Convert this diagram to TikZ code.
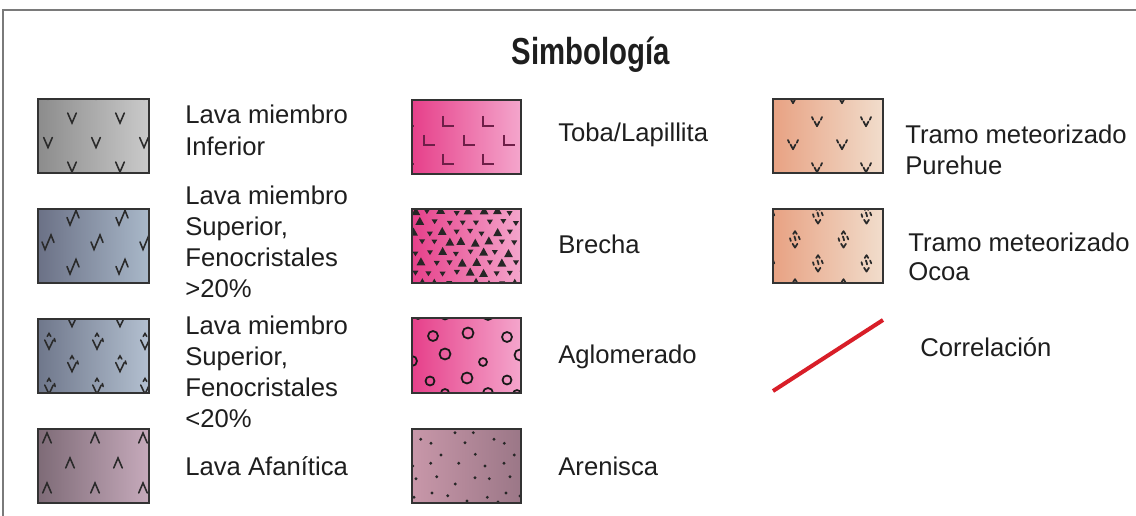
\documentclass[tikz,border=0pt]{standalone}
\usepackage{fontspec}
\setmainfont{Liberation Sans}
\usetikzlibrary{calc}
\definecolor{txt}{HTML}{1E1E1E}
\definecolor{framec}{HTML}{7A7A7A}
\definecolor{boxc}{HTML}{333333}
\definecolor{glc}{HTML}{2A2A2A}
\definecolor{tobac}{HTML}{6E1F48}
\definecolor{redc}{HTML}{D81E28}
\definecolor{sAl}{HTML}{8C8C8C}\definecolor{sAr}{HTML}{CACACA}
\definecolor{sBl}{HTML}{6B7186}\definecolor{sBr}{HTML}{A9B8C9}
\definecolor{sCl}{HTML}{6F778B}\definecolor{sCr}{HTML}{B3C0D0}
\definecolor{sDl}{HTML}{7E6B77}\definecolor{sDr}{HTML}{C6AABB}
\definecolor{pkl}{HTML}{E6408A}\definecolor{pkr}{HTML}{F4A6CC}
\definecolor{arl}{HTML}{C897A9}\definecolor{arr}{HTML}{9B7787}
\definecolor{trl}{HTML}{E8A283}\definecolor{trr}{HTML}{F1DDCC}
\tikzset{
  lbl/.style={anchor=base west, inner sep=0pt, text=txt, font=\fontsize{14.6}{17.5}\selectfont},
  gl/.style={draw=glc, line width=0.9pt, line cap=round, line join=miter},
  glb/.style={draw=glc, line width=1.0pt, line cap=round, line join=round},
  tl/.style={draw=tobac, line width=0.7pt},
  swborder/.style={draw=boxc, line width=0.85pt},
}
% #1 box x, #2 box y, #3 x offset, #4 y offset, #5 dx, #6 dy, #7 row shift, #8 glyph, #9 first row
\newcommand{\lattice}[9]{%
  \foreach \i in {#9,...,5}{%
    \foreach \j in {-1,...,3}{%
      \pgfmathsetmacro\gx{#1+#3+#5*\j-#7*mod(\i+2,2)}%
      \pgfmathsetmacro\gy{#2+#4+#6*\i}%
      \begin{scope}[shift={(\gx,\gy)}]#8\end{scope}%
    }%
  }%
}
\newcommand{\gVee}{\draw[gl] (-4.3,-5) -- (0,5) -- (4.3,-5);}
\newcommand{\gZig}{\draw[gl] (-6,-0.5) -- (-3,7) -- (3,-7.5) -- (6,0);}
\newcommand{\gVcar}{\draw[gl] (-4.3,-3.5) -- (0,5.5) -- (4.3,-3.5); \draw[gl] (-1.8,-7) -- (0,-10) -- (1.8,-7); \draw[gl] (5.3,-5) -- (6.2,-2);}
\newcommand{\gLam}{\draw[gl] (-4.3,5) -- (0,-5) -- (4.3,5);}
\newcommand{\gL}{\draw[tl] (-5,-6) -- (-5,4) -- (6,4);}
\newcommand{\gPur}{\draw[glb] (-2.5,-0.5) -- (0,4.2) -- (2.5,-0.5); \draw[glb] (-5,-5) -- (-3.8,-2.2); \draw[glb] (5,-5) -- (3.8,-2.2);}
\newcommand{\gOco}{\draw[glb] (-1.8,-8) -- (0,-10.8) -- (1.8,-8); \draw[glb] (-5,-3.8) -- (-4.2,-1); \draw[glb] (-0.6,-5.5) .. controls (1.2,-5) and (-1.2,-2.8) .. (0.6,-1.6); \draw[glb] (3.6,-5.5) -- (4.8,-2.6); \draw[glb] (-2.4,1.8) -- (0,5.6) -- (2.4,1.8);}
\begin{document}
\begin{tikzpicture}[x=0.02cm,y=-0.02cm]
\useasboundingbox (0,0) rectangle (1136,516);
\fill[white] (0,0) rectangle (1136,516);
% frame
\draw[framec, line width=1.1pt] (3,516) -- (3,10) -- (1136,10);
\node (title) at (591,65) [anchor=base, inner sep=0pt, text=txt, font=\bfseries\fontsize{21.4}{24}\selectfont] {\scalebox{0.78}[1]{Simbología}};

% ---- column 1 ----
\shade[left color=sAl, right color=sAr] (38,99) rectangle ++(111,74);
\begin{scope}\clip (38,99) rectangle ++(111,74); \lattice{38}{99}{34}{19}{48}{24.5}{24}{\gVee}{-1} \end{scope}
\draw[swborder] (38,99) rectangle ++(111,74);
\shade[left color=sBl, right color=sBr] (38,209) rectangle ++(111,74);
\begin{scope}\clip (38,209) rectangle ++(111,74); \lattice{38}{209}{35}{9}{49}{24.5}{25}{\gZig}{-1} \end{scope}
\draw[swborder] (38,209) rectangle ++(111,74);
\shade[left color=sCl, right color=sCr] (38,319) rectangle ++(111,74);
\begin{scope}\clip (38,319) rectangle ++(111,74); \lattice{38}{319}{34}{2}{48}{22.5}{23}{\gVcar}{-1} \end{scope}
\draw[swborder] (38,319) rectangle ++(111,74);
\shade[left color=sDl, right color=sDr] (38,429) rectangle ++(111,74);
\begin{scope}\clip (38,429) rectangle ++(111,74); \lattice{38}{429}{9}{9}{48}{25}{-23}{\gLam}{-1} \end{scope}
\draw[swborder] (38,429) rectangle ++(111,74);

\node[lbl] (t1a) at (185,124) {Lava miembro};
\node[lbl] (t1b) at (185,156) {Inferior};
\node[lbl] (t2a) at (185,205) {Lava miembro};
\node[lbl] (t2b) at (185,236) {Superior,};
\node[lbl] (t2c) at (185,267) {Fenocristales};
\node[lbl] (t2d) at (185,298) {>20\%};
\node[lbl] (t3a) at (185,335) {Lava miembro};
\node[lbl] (t3b) at (185,366) {Superior,};
\node[lbl] (t3c) at (185,397) {Fenocristales};
\node[lbl] (t3d) at (185,428) {<20\%};
\node[lbl] (t4a) at (185,476) {Lava Afanítica};

% ---- column 2 ----
\shade[left color=pkl, right color=pkr] (412,100) rectangle ++(109,74);
\begin{scope}\clip (412,100) rectangle ++(109,74); \lattice{412}{100}{36}{22}{40}{19}{19}{\gL}{0} \end{scope}
\draw[swborder] (412,100) rectangle ++(109,74);
\shade[left color=pkl, right color=pkr] (412,209) rectangle ++(109,74);
\begin{scope}\clip (412,209) rectangle ++(109,74);
\pgfmathsetseed{5}
\foreach \i in {0,...,7}{\foreach \j in {0,...,8}{%
  \pgfmathsetmacro\tx{412+3+13.5*\j+6.5*mod(\i,2)+rand*1.8}%
  \pgfmathsetmacro\ty{209+3+10.2*\i+rand*1.5}%
  \pgfmathsetmacro\tr{rnd}%
  \ifdim\tr pt<0.42pt
    \fill[black!85] (\tx,\ty) +(0,-4.8) -- +(4.4,3.2) -- +(-4.4,3.2) -- cycle;
  \else
    \fill[black!85] (\tx,\ty) +(-3,-2) -- +(3,-2) -- +(0,2.8) -- cycle;
  \fi
}}
\end{scope}
\draw[swborder] (412,209) rectangle ++(109,74);
\shade[left color=pkl, right color=pkr] (412,318) rectangle ++(109,75);
\begin{scope}\clip (412,318) rectangle ++(109,75);
\foreach \cx/\cy/\cr in {21/18/5,56/15/5.5,95/19/5,33/36/5.5,71/44/4,108/37/5.5,0/43/5,18/63/4.5,55/60/5.5,95/62/4.5,6/-3/4,33/-3/4.5,76/-3/5,33/75/4,76/75/5,105/76/4}{
  \draw[black!90, line width=1pt] (412+\cx,318+\cy) circle[radius=\cr];
}
\end{scope}
\draw[swborder] (412,318) rectangle ++(109,75);
\shade[left color=arl, right color=arr] (412,429) rectangle ++(109,74);
\begin{scope}\clip (412,429) rectangle ++(109,74);
\foreach \dx/\dy in {8.7/10.3,19/14.3,43/3.7,61.3/3.7,53/13.7,82/10.3,92.3/14.3,29/26,63.3/25.3,102.3/26,0.7/37,18.7/34.3,46.7/34.3,73/37,92/34.3,4/49.7,24.7/47.7,43.3/55,63/48.7,77.3/49.7,98/47.7,2/68.3,20/64,35.7/66.7,75.3/68.3,94/64,108/67,55/72,86/73}{
  \fill[black!85] (412+\dx,429+\dy) circle[radius=1.6];
}
\end{scope}
\draw[swborder] (412,429) rectangle ++(109,74);

\node[lbl] (u1) at (558,142) {Toba/Lapillita};
\node[lbl] (u2) at (558,254) {Brecha};
\node[lbl] (u3) at (558,364) {Aglomerado};
\node[lbl] (u4) at (558,476) {Arenisca};

% ---- column 3 ----
\shade[left color=trl, right color=trr] (773,99) rectangle ++(110,74);
\begin{scope}\clip (773,99) rectangle ++(110,74); \lattice{773}{99}{20}{0}{49}{23}{-24}{\gPur}{-1} \end{scope}
\draw[swborder] (773,99) rectangle ++(110,74);
\shade[left color=trl, right color=trr] (773,209) rectangle ++(110,74);
\begin{scope}\clip (773,209) rectangle ++(110,74); \lattice{773}{209}{45}{9}{48.5}{24}{23}{\gOco}{-1} \end{scope}
\draw[swborder] (773,209) rectangle ++(110,74);

\node[lbl] (v1a) at (905,144) {Tramo meteorizado};
\node[lbl] (v1b) at (905,175) {Purehue};
\node[lbl] (v2a) at (908,252) {Tramo meteorizado};
\node[lbl] (v2b) at (908,281) {Ocoa};

\coordinate (cA) at (773,391);
\coordinate (cB) at (883,320);
\draw[redc, line width=2.3pt] (cA) -- (cB);
\node[lbl] (corr) at (920,357) {Correlación};
\end{tikzpicture}
\end{document}
